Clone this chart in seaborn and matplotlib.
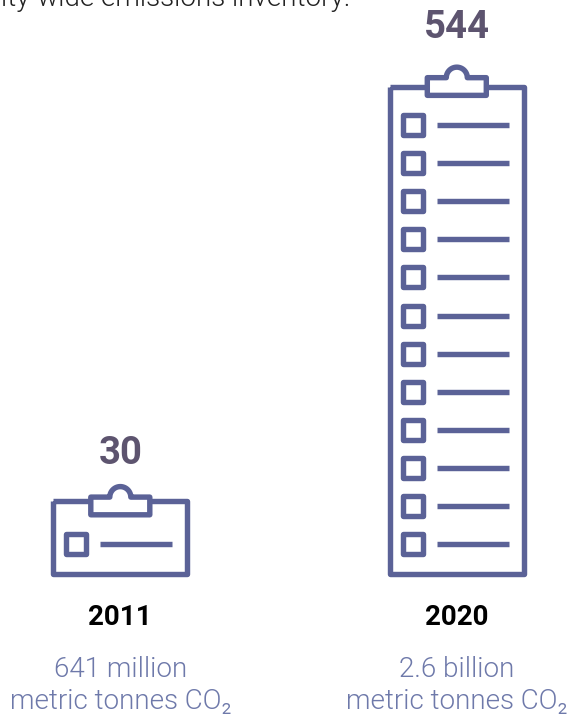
# Pictogram of reporting cities per year, one clipboard row per step
import numpy as np
import pandas as pd
import matplotlib.pyplot as plt
import seaborn as sns

# Data
years = ["2011", "2020"]
cities = ["30", "544"]
rows = [1, 12]
emissions = ["641 million", "2.6 billion"]
unit_label = "metric tonnes CO₂"
intro_text = "ity-wide emissions inventory."

sns.set_theme(style="white", rc={"lines.solid_capstyle": "butt"})
plt.rcParams["font.family"] = ["Roboto", "DejaVu Sans"]

board_color = "#5b6297"
number_color = "#5d546f"
light_color = "#6e79aa"

fig = plt.figure(figsize=(5.7, 7.15), dpi=100)
ax = fig.add_axes([0, 0, 1, 1])
ax.set_xlim(0, 570)
ax.set_ylim(715, 0)
ax.axis("off")

centers = [120.3, 456.8]
bottom_row = 544.3
row_gap = 38.13
stroke = 3.9
board_pad = [42.8, 38.2]
year_shift = [-0.5, 0]

ax.text(350, 6.5, intro_text, ha="right", va="baseline", fontsize=20, fontweight=300, color="#222222")

row_records = []
seg_records = []
for i, year in enumerate(years):
    cx = centers[i]
    ys = bottom_row - row_gap * np.arange(rows[i])[::-1]

    # board outline
    top = ys[0] - board_pad[i]
    ax.plot([cx - 67, cx + 67, cx + 67, cx - 67, cx - 67], [top, top, 573.5, 573.5, top],
            color=board_color, lw=stroke, solid_joinstyle="round", zorder=2)

    # clip at the top of the board
    clip_bottom = ys[0] - 29.5
    clip_top = ys[0] - 47.2
    theta = np.linspace(np.pi, 0, 40)
    arc_x = cx + 10.5 * np.cos(theta)
    arc_y = clip_top - 10.5 * np.sin(theta)
    clip_x = np.r_[cx - 29.5, cx - 29.5, arc_x, cx + 29.5, cx + 29.5, cx - 29.5]
    clip_y = np.r_[clip_bottom, clip_top, arc_y, clip_top, clip_bottom, clip_bottom]
    ax.fill(clip_x, clip_y, facecolor="white", edgecolor=board_color, lw=stroke,
            joinstyle="round", zorder=3)

    for j, y in enumerate(ys):
        row_records.append({"x": cx - 44.3, "y": y})
        seg_records.append({"seg": f"{year}-{j}", "x": cx - 20, "y": y})
        seg_records.append({"seg": f"{year}-{j}", "x": cx + 51.7, "y": y})

    ax.text(cx, ys[0] - 87 if rows[i] > 1 else 463.5, cities[i], ha="center", va="baseline",
            fontsize=27.5, fontweight="bold", color=number_color)
    ax.text(cx + year_shift[i], 625, year, ha="center", va="baseline", fontsize=20, fontweight="bold", color="black")
    ax.text(cx, 676.7, emissions[i], ha="center", va="baseline", fontsize=20, fontweight=300, color=light_color)
    ax.text(cx, 709, unit_label, ha="center", va="baseline", fontsize=20, fontweight=300, color=light_color)

box_df = pd.DataFrame(row_records)
seg_df = pd.DataFrame(seg_records)

sns.lineplot(data=seg_df, x="x", y="y", units="seg", estimator=None, sort=False,
             color=board_color, lw=stroke, ax=ax, zorder=2)
boxes = sns.scatterplot(data=box_df, x="x", y="y", marker="s", s=197, facecolor="white",
                        edgecolor=board_color, linewidth=stroke, ax=ax, zorder=2)
boxes.collections[-1].set_joinstyle("round")

fig.savefig("out.png", dpi=100)
